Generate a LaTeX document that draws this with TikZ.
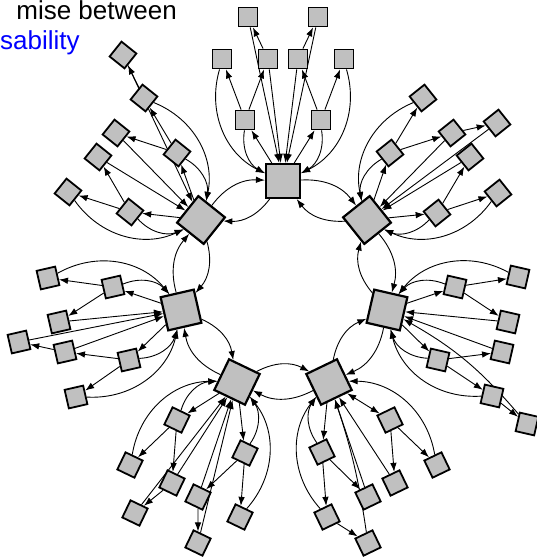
\documentclass[tikz,border=0pt]{standalone}
\usepackage{fontspec}
\setmainfont{Liberation Sans}
\usepackage{xcolor}
\usepackage{tikz}
\usetikzlibrary{arrows.meta, backgrounds}
\definecolor{boxgray}{RGB}{192,192,192}

\begin{document}
\begin{tikzpicture}[x=1pt, y=1pt, >={Latex[length=9pt,width=6.5pt]},
    hub/.style={draw, line width=2.2pt, fill=boxgray, minimum size=34pt, inner sep=0pt},
    sat/.style={draw, line width=1.8pt, fill=boxgray, minimum size=19pt, inner sep=0pt},
    link/.style={->, line width=0.9pt},
    caption/.style={inner sep=0pt, font=\fontsize{26}{30}\selectfont}]
  \useasboundingbox (0,0) rectangle (537,-559);

  \node[caption, anchor=base east] (head) at (177,-19.5) {mise between};
  \node[caption, anchor=base west, text=blue] (sub) at (0,-50) {sability};

  % ring of hubs
  \node[hub] (t) at (283,-181) {};
  \node[hub, rotate=-51.4] (u) at (367,-220) {};
  \node[hub, rotate=-102.9] (r) at (387,-310) {};
  \node[hub, rotate=-154.3] (lr) at (329,-382) {};
  \node[hub, rotate=-205.7] (ll) at (237,-382) {};
  \node[hub, rotate=-257.1] (l) at (181,-310) {};
  \node[hub, rotate=-308.6] (ul) at (201,-220) {};

  % top
  \node[sat] (t1) at (245,-120) {};
  \node[sat] (t2) at (222,-59) {};
  \node[sat] (t3) at (268,-59) {};
  \node[sat] (t4) at (248,-17) {};
  \node[sat] (t5) at (321,-120) {};
  \node[sat] (t6) at (344,-59) {};
  \node[sat] (t7) at (298,-59) {};
  \node[sat] (t8) at (318,-17) {};

  % upper right
  \node[sat, rotate=-51.4] (u1) at (390,-153) {};
  \node[sat, rotate=-51.4] (u2) at (423,-98) {};
  \node[sat, rotate=-51.4] (u3) at (452,-133) {};
  \node[sat, rotate=-51.4] (u4) at (497,-123) {};
  \node[sat, rotate=-51.4] (u5) at (437,-213) {};
  \node[sat, rotate=-51.4] (u6) at (498,-193) {};
  \node[sat, rotate=-51.4] (u7) at (470,-157) {};

  % right
  \node[sat, rotate=-102.9] (r1) at (455,-287) {};
  \node[sat, rotate=-102.9] (r2) at (518,-277) {};
  \node[sat, rotate=-102.9] (r3) at (508,-322) {};
  \node[sat, rotate=-102.9] (r5) at (438,-360) {};
  \node[sat, rotate=-102.9] (r6) at (492,-396) {};
  \node[sat, rotate=-102.9] (r7) at (502,-352) {};
  \node[sat, rotate=-102.9] (r8) at (527,-424) {};

  % lower right
  \node[sat, rotate=-154.3] (lr1) at (322,-452) {};
  \node[sat, rotate=-154.3] (lr2) at (327,-517) {};
  \node[sat, rotate=-154.3] (lr3) at (368,-497) {};
  \node[sat, rotate=-154.3] (lr4) at (368,-543) {};
  \node[sat, rotate=-154.3] (lr5) at (390,-420) {};
  \node[sat, rotate=-154.3] (lr6) at (437,-465) {};
  \node[sat, rotate=-154.3] (lr7) at (395,-483) {};

  % lower left
  \node[sat, rotate=-205.7] (ll1) at (177,-420) {};
  \node[sat, rotate=-205.7] (ll2) at (130,-465) {};
  \node[sat, rotate=-205.7] (ll3) at (172,-483) {};
  \node[sat, rotate=-205.7] (ll4) at (135,-513) {};
  \node[sat, rotate=-205.7] (ll5) at (245,-453) {};
  \node[sat, rotate=-205.7] (ll6) at (240,-517) {};
  \node[sat, rotate=-205.7] (ll7) at (198,-497) {};
  \node[sat, rotate=-205.7] (ll8) at (198,-543) {};

  % left
  \node[sat, rotate=-257.1] (l1) at (113,-287) {};
  \node[sat, rotate=-257.1] (l2) at (48,-278) {};
  \node[sat, rotate=-257.1] (l3) at (59,-322) {};
  \node[sat, rotate=-257.1] (l5) at (129,-360) {};
  \node[sat, rotate=-257.1] (l6) at (76,-397) {};
  \node[sat, rotate=-257.1] (l7) at (65,-352) {};
  \node[sat, rotate=-257.1] (l8) at (19,-342) {};

  % upper left
  \node[sat, rotate=-308.6] (ul1) at (177,-153) {};
  \node[sat, rotate=-308.6] (ul2) at (144,-98) {};
  \node[sat, rotate=-308.6] (ul3) at (116,-133) {};
  \node[sat, rotate=-308.6] (ul4) at (123,-55) {};
  \node[sat, rotate=-308.6] (ul5) at (130,-212) {};
  \node[sat, rotate=-308.6] (ul6) at (68,-192) {};
  \node[sat, rotate=-308.6] (ul7) at (98,-157) {};

  \begin{scope}[on background layer]
    \foreach \a/\b in {t/u, u/r, r/lr, lr/ll, ll/l, l/ul, ul/t} {
      \draw[link] (\a) to[bend left=28] (\b);
      \draw[link] (\b) to[bend left=28] (\a);
    }

    \draw[link] (t) -- (t1);
    \draw[link] (t1) to[bend right=35] (t);
    \draw[link] (t1) -- (t2);
    \draw[link] (t1) -- (t3);
    \draw[link] (t2) to[bend right=40] (t);
    \draw[link] (t3) -- (t);
    \draw[link] (t3) -- (t4);
    \draw[link] (t4) -- (t);
    \draw[link] (t) -- (t5);
    \draw[link] (t5) to[bend left=35] (t);
    \draw[link] (t5) -- (t6);
    \draw[link] (t5) -- (t7);
    \draw[link] (t6) to[bend left=40] (t);
    \draw[link] (t7) -- (t);
    \draw[link] (t7) -- (t8);
    \draw[link] (t8) -- (t);

    \draw[link] (u) -- (u1);
    \draw[link] (u1) to[bend right=35] (u);
    \draw[link] (u1) -- (u2);
    \draw[link] (u1) -- (u3);
    \draw[link] (u2) to[bend right=40] (u);
    \draw[link] (u3) -- (u);
    \draw[link] (u3) -- (u4);
    \draw[link] (u4) -- (u);
    \draw[link] (u) -- (u5);
    \draw[link] (u5) to[bend left=35] (u);
    \draw[link] (u5) -- (u6);
    \draw[link] (u5) -- (u7);
    \draw[link] (u6) to[bend left=40] (u);
    \draw[link] (u7) -- (u);

    \draw[link] (r) -- (r1);
    \draw[link] (r1) to[bend right=35] (r);
    \draw[link] (r1) -- (r2);
    \draw[link] (r1) -- (r3);
    \draw[link] (r2) to[bend right=40] (r);
    \draw[link] (r3) -- (r);
    \draw[link] (r) -- (r5);
    \draw[link] (r5) to[bend left=35] (r);
    \draw[link] (r5) -- (r6);
    \draw[link] (r5) -- (r7);
    \draw[link] (r6) to[bend left=40] (r);
    \draw[link] (r7) -- (r);
    \draw[link] (r6) -- (r8);
    \draw[link] (r8) to[bend right=10] (r);

    \draw[link] (lr) -- (lr1);
    \draw[link] (lr1) to[bend left=35] (lr);
    \draw[link] (lr1) -- (lr2);
    \draw[link] (lr1) -- (lr3);
    \draw[link] (lr2) to[bend left=40] (lr);
    \draw[link] (lr2) -- (lr4);
    \draw[link] (lr3) -- (lr);
    \draw[link] (lr4) to[bend right=5] (lr);
    \draw[link, <->] (lr) -- (lr5);
    \draw[link] (lr5) -- (lr6);
    \draw[link] (lr5) -- (lr7);
    \draw[link] (lr6) to[bend right=40] (lr);
    \draw[link] (lr7) -- (lr);

    \draw[link] (ll) -- (ll1);
    \draw[link] (ll1) to[bend left=35] (ll);
    \draw[link] (ll1) -- (ll2);
    \draw[link] (ll1) -- (ll3);
    \draw[link] (ll2) to[bend left=40] (ll);
    \draw[link] (ll3) -- (ll4);
    \draw[link] (ll3) -- (ll);
    \draw[link] (ll4) -- (ll);
    \draw[link] (ll) -- (ll5);
    \draw[link] (ll5) to[bend right=35] (ll);
    \draw[link] (ll5) -- (ll6);
    \draw[link] (ll5) -- (ll7);
    \draw[link] (ll6) to[bend right=40] (ll);
    \draw[link] (ll7) -- (ll8);
    \draw[link] (ll7) -- (ll);
    \draw[link] (ll8) -- (ll);

    \draw[link] (l) -- (l1);
    \draw[link] (l1) to[bend left=35] (l);
    \draw[link] (l1) -- (l2);
    \draw[link] (l1) -- (l3);
    \draw[link] (l2) to[bend left=40] (l);
    \draw[link] (l3) -- (l);
    \draw[link] (l) -- (l5);
    \draw[link] (l5) to[bend right=35] (l);
    \draw[link] (l5) -- (l6);
    \draw[link] (l5) -- (l7);
    \draw[link] (l6) to[bend right=40] (l);
    \draw[link] (l7) -- (l8);
    \draw[link] (l7) -- (l);
    \draw[link] (l8) -- (l);

    \draw[link] (ul) -- (ul1);
    \draw[link] (ul1) to[bend left=35] (ul);
    \draw[link] (ul1) -- (ul2);
    \draw[link] (ul1) -- (ul3);
    \draw[link] (ul2) to[bend left=40] (ul);
    \draw[link] (ul2) -- (ul4);
    \draw[link] (ul3) -- (ul);
    \draw[link] (ul4) -- (ul);
    \draw[link] (ul) -- (ul5);
    \draw[link] (ul5) to[bend right=35] (ul);
    \draw[link] (ul5) -- (ul6);
    \draw[link] (ul5) -- (ul7);
    \draw[link] (ul6) to[bend right=40] (ul);
    \draw[link] (ul7) -- (ul);
  \end{scope}
\end{tikzpicture}
\end{document}
